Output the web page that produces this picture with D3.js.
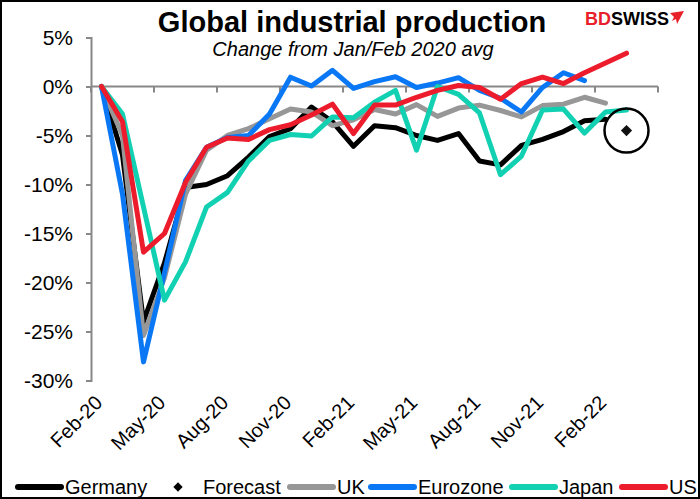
<!DOCTYPE html>
<html>
<head>
<meta charset="utf-8">
<script src="https://cdn.jsdelivr.net/npm/d3@7"></script>
<style>
  body { margin: 0; background: #fff; }
  svg { display: block; font-family: "Liberation Sans", Arial, sans-serif; }
</style>
</head>
<body>
<svg id="chart" width="700" height="499"></svg>
<script>
// categories (monthly), last one left empty like the original
let months = ['Feb-20', 'Mar-20', 'Apr-20', 'May-20', 'Jun-20', 'Jul-20', 'Aug-20', 'Sep-20', 'Oct-20',
    'Nov-20', 'Dec-20', 'Jan-21', 'Feb-21', 'Mar-21', 'Apr-21', 'May-21', 'Jun-21', 'Jul-21', 'Aug-21',
    'Sep-21', 'Oct-21', 'Nov-21', 'Dec-21', 'Jan-22', 'Feb-22', 'Mar-22', 'Apr-22'];

let germany = [0, -7, -24, -18, -10.3, -10, -9.1, -7.2, -5.1, -4.3, -2.1, -3.6, -6.1, -4.0, -4.2, -5.0,
    -5.5, -4.8, -7.6, -8.0, -6.0, -5.4, -4.6, -3.5, -3.35];
let uk = [0, -5, -25.4, -19.5, -11, -6.5, -5.0, -4.3, -3.3, -2.3, -2.6, -4.0, -3.4, -2.35, -2.8, -1.85,
    -3.05, -2.2, -1.9, -2.45, -3.1, -1.95, -1.8, -1.1, -1.7];
let eurozone = [0, -11, -28.1, -19, -9.6, -6.2, -5.2, -5.0, -2.8, 0.95, 0.05, 1.65, -0.2, 0.5, 1.0, -0.1,
    0.35, 0.9, -0.4, -1.2, -2.6, -0.1, 1.4, 0.6];
let japan = [0, -2.8, -12.3, -21.8, -17.9, -12.3, -10.8, -7.6, -5.5, -4.9, -5.05, -3.1, -3.2, -1.6, -0.4,
    -6.5, 0, -0.8, -2.7, -9.0, -7.1, -2.4, -2.3, -4.75, -2.6, -2.4];
let us = [0, -3.6, -16.9, -15.0, -9.8, -6.2, -5.25, -5.4, -4.4, -3.9, -2.9, -1.8, -4.8, -1.9, -1.9, -1.1,
    -0.4, 0.1, -0.1, -1.3, 0.3, 0.95, 0.3, 1.4, 2.4, 3.4];
let forecastMonth = 'Mar-22';
let forecastValue = -4.5;

let yTicks = [5, 0, -5, -10, -15, -20, -25, -30];

let series = [
    { name: 'Germany', values: germany, color: '#000000' },
    { name: 'UK', values: uk, color: '#979797' },
    { name: 'Eurozone', values: eurozone, color: '#0a78f5' },
    { name: 'Japan', values: japan, color: '#12d1b2' },
    { name: 'US', values: us, color: '#ec1c2c' }
];

let svg = d3.select('#chart');
let width = +svg.attr('width');
let height = +svg.attr('height');

// frame
svg.append('rect')
    .attr('x', 1).attr('y', 1)
    .attr('width', width - 2).attr('height', height - 2)
    .attr('fill', '#fff')
    .attr('stroke', '#000')
    .attr('stroke-width', 2);

let x = d3.scaleBand().domain(months).range([91, 658]).padding(0);
let y = d3.scaleLinear().domain([-30, 5]).range([380.5, 37.5]);
let cx = m => x(m) + x.bandwidth() / 2;

// title
svg.append('text')
    .attr('x', 352).attr('y', 32)
    .attr('text-anchor', 'middle')
    .attr('font-size', 29).attr('font-weight', 'bold')
    .text('Global industrial production');

svg.append('text')
    .attr('x', 353).attr('y', 56)
    .attr('text-anchor', 'middle')
    .attr('font-size', 20).attr('font-style', 'italic')
    .text('Change from Jan/Feb 2020 avg');

// logo
let logo = svg.append('text')
    .attr('x', 585).attr('y', 25)
    .attr('font-size', 18).attr('font-weight', 'bold');
logo.append('tspan').attr('fill', '#e8202a').text('BD');
logo.append('tspan').attr('fill', '#000').text('SWISS');
svg.append('path')
    .attr('d', 'M670,13 L684,11 L677,24 L676,19 L672,21 L674,17 Z')
    .attr('fill', '#e8202a');

// y axis
let yAxis = svg.append('g')
    .attr('transform', 'translate(91,0)')
    .call(d3.axisLeft(y).tickValues(yTicks).tickSize(5).tickPadding(13)
        .tickFormat(d => d + '%'));
yAxis.selectAll('path, line').attr('stroke', '#888').attr('stroke-width', 2);
yAxis.selectAll('text').attr('font-size', 21).attr('fill', '#000')
    .attr('font-family', '"Liberation Sans", Arial, sans-serif');

// x axis at 0 with ticks between categories every quarter
let xAxis = svg.append('g');
xAxis.append('line')
    .attr('x1', x.range()[0]).attr('x2', x.range()[1])
    .attr('y1', y(0)).attr('y2', y(0))
    .attr('stroke', '#888').attr('stroke-width', 2);
let tickPos = months.filter((d, i) => i % 3 === 0).map(m => x(m)).concat([x.range()[1]]);
xAxis.selectAll('.xtick')
    .data(tickPos)
    .enter()
    .append('line')
    .attr('class', 'xtick')
    .attr('x1', d => d).attr('x2', d => d)
    .attr('y1', y(0)).attr('y2', y(0) + 6)
    .attr('stroke', '#888').attr('stroke-width', 2);

// category labels at the bottom
svg.selectAll('.xlabel')
    .data(months.filter((d, i) => i % 3 === 0 && i <= 24))
    .enter()
    .append('text')
    .attr('class', 'xlabel')
    .attr('transform', d => 'translate(' + (cx(d) + 2) + ',404) rotate(-45)')
    .attr('text-anchor', 'end')
    .attr('font-size', 20)
    .text(d => d);

// lines
let line = d3.line()
    .x((d, i) => cx(months[i]))
    .y(d => y(d));

svg.selectAll('.series')
    .data(series)
    .enter()
    .append('path')
    .attr('class', 'series')
    .attr('d', d => line(d.values))
    .attr('fill', 'none')
    .attr('stroke', d => d.color)
    .attr('stroke-width', 5)
    .attr('stroke-linejoin', 'round')
    .attr('stroke-linecap', 'round');

// forecast marker
svg.append('path')
    .attr('d', d3.symbol(d3.symbolDiamond2, 80)())
    .attr('transform', 'translate(' + cx(forecastMonth) + ',' + y(forecastValue) + ')')
    .attr('fill', '#111');
svg.append('circle')
    .attr('cx', cx(forecastMonth)).attr('cy', y(forecastValue))
    .attr('r', 22)
    .attr('fill', 'none')
    .attr('stroke', '#000')
    .attr('stroke-width', 2.5);

// legend
let legendItems = [
    { name: 'Germany', color: '#000000', x: 18, type: 'line' },
    { name: 'Forecast', color: '#000000', x: 170, type: 'diamond' },
    { name: 'UK', color: '#979797', x: 290, type: 'line' },
    { name: 'Eurozone', color: '#0a78f5', x: 371, type: 'line' },
    { name: 'Japan', color: '#12d1b2', x: 512, type: 'line' },
    { name: 'US', color: '#ec1c2c', x: 622, type: 'line' }
];

let legend = svg.selectAll('.legend')
    .data(legendItems)
    .enter()
    .append('g')
    .attr('class', 'legend')
    .attr('transform', d => 'translate(' + d.x + ',487)');

legend.filter(d => d.type === 'line')
    .append('line')
    .attr('x1', 0).attr('x2', 43)
    .attr('stroke', d => d.color)
    .attr('stroke-width', 6)
    .attr('stroke-linecap', 'round');

legend.filter(d => d.type === 'diamond')
    .append('path')
    .attr('d', d3.symbol(d3.symbolDiamond2, 55)())
    .attr('transform', 'translate(8,0)')
    .attr('fill', '#000');

legend.append('text')
    .attr('x', d => d.type === 'line' ? 47 : 33)
    .attr('y', 7)
    .attr('font-size', 20)
    .text(d => d.name);
</script>
</body>
</html>
